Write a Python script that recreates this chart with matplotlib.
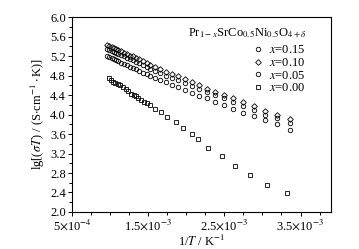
import matplotlib
matplotlib.use("Agg")
import matplotlib.pyplot as plt
from matplotlib.ticker import MultipleLocator, FixedLocator

plt.rcParams["font.family"] = ["Liberation Serif", "DejaVu Serif"]
plt.rcParams["mathtext.fontset"] = "stix"

# 1/T values (x 1e-3 K^-1)
inv_t_upper = [0.96, 0.99, 1.02, 1.05, 1.08, 1.11, 1.14, 1.18, 1.22, 1.26, 1.30,
               1.34, 1.38, 1.43, 1.48, 1.53, 1.59, 1.66, 1.73, 1.81, 1.89, 1.98,
               2.07, 2.17, 2.27, 2.38, 2.50, 2.62, 2.75, 2.89, 3.04, 3.19, 3.36]
lg_x015 = [5.35, 5.33, 5.31, 5.29, 5.26, 5.24, 5.22, 5.19, 5.16, 5.13, 5.11,
           5.08, 5.05, 5.01, 4.98, 4.94, 4.90, 4.85, 4.80, 4.75, 4.70, 4.64,
           4.58, 4.52, 4.46, 4.39, 4.33, 4.25, 4.18, 4.10, 4.00, 3.93, 3.83]
lg_x010 = [5.43, 5.41, 5.39, 5.37, 5.34, 5.32, 5.30, 5.27, 5.24, 5.21, 5.19,
           5.16, 5.13, 5.09, 5.06, 5.02, 4.98, 4.93, 4.88, 4.83, 4.78, 4.72,
           4.66, 4.60, 4.53, 4.47, 4.40, 4.33, 4.25, 4.17, 4.08, 4.00, 3.90]
lg_x005 = [5.19, 5.17, 5.15, 5.13, 5.11, 5.09, 5.06, 5.04, 5.01, 4.98, 4.95,
           4.93, 4.90, 4.86, 4.83, 4.79, 4.75, 4.70, 4.66, 4.61, 4.56, 4.50,
           4.44, 4.38, 4.33, 4.26, 4.19, 4.12, 4.04, 3.97, 3.89, 3.80, 3.68]

inv_t_000 = [0.98, 1.011, 1.042, 1.069, 1.102, 1.133, 1.169, 1.204, 1.240, 1.277,
             1.308, 1.338, 1.371, 1.406, 1.442, 1.483, 1.523, 1.590, 1.662, 1.742,
             1.863, 1.963, 2.079, 2.159, 2.290, 2.474, 2.640, 2.842, 3.057, 3.326]
lg_x000 = [4.74, 4.71, 4.67, 4.65, 4.63, 4.60, 4.56, 4.52, 4.48, 4.43,
           4.41, 4.37, 4.34, 4.30, 4.26, 4.23, 4.19, 4.12, 4.05, 3.95,
           3.84, 3.72, 3.60, 3.49, 3.32, 3.14, 2.94, 2.76, 2.55, 2.39]

x_ticks = [5e-4, 1.5e-3, 2.5e-3, 3.5e-3]
x_tick_labels = [r"5$\times$10$^{-4}$", r"1.5$\times$10$^{-3}$",
                 r"2.5$\times$10$^{-3}$", r"3.5$\times$10$^{-3}$"]

fig = plt.figure(figsize=(3.59, 2.49), dpi=100)
ax = fig.add_axes([0.2006, 0.1486, 0.7214, 0.7831])

mk = dict(linestyle="none", markerfacecolor="none", markeredgecolor="black",
          markeredgewidth=0.6, markersize=3.2)
ax.plot([v * 1e-3 for v in inv_t_upper], lg_x015, marker="o", label=r"$x$=0.15", **mk)
ax.plot([v * 1e-3 for v in inv_t_upper], lg_x010, marker="D", label=r"$x$=0.10",
        **{**mk, "markersize": 2.9})
ax.plot([v * 1e-3 for v in inv_t_upper], lg_x005, marker="o", label=r"$x$=0.05", **mk)
ax.plot([v * 1e-3 for v in inv_t_000], lg_x000, marker="s", label=r"$x$=0.00",
        **{**mk, "markersize": 2.9})

ax.set_xlim(5e-4, 3.9e-3)
ax.set_ylim(2.0, 6.0)
ax.xaxis.set_major_locator(FixedLocator(x_ticks))
ax.set_xticklabels(x_tick_labels)
ax.xaxis.set_minor_locator(MultipleLocator(2.5e-4))
ax.yaxis.set_major_locator(MultipleLocator(0.4))
ax.yaxis.set_minor_locator(MultipleLocator(0.2))
ax.yaxis.set_major_formatter(matplotlib.ticker.FormatStrFormatter("%.1f"))
ax.tick_params(which="both", direction="out", top=False, right=False,
               labelsize=9, width=0.7, pad=1.5)
ax.tick_params(which="major", length=3)
ax.tick_params(which="minor", length=2)
for s in ax.spines.values():
    s.set_linewidth(0.8)

ax.set_xlabel(r"1/$T$ / K$^{-1}$", fontsize=9, labelpad=1)
ax.set_ylabel(r"lg[($\sigma T$) / (S$\cdot$cm$^{-1}\cdot$K)]", fontsize=9, labelpad=2)

ax.text(0.905, 0.915, r"Pr$_{1-x}$SrCo$_{0.5}$Ni$_{0.5}$O$_{4+\delta}$",
        transform=ax.transAxes, ha="right", va="center", fontsize=9)
ax.legend(loc="upper right", bbox_to_anchor=(0.9, 0.86), frameon=False,
          fontsize=9, handlelength=1.0, handletextpad=0.4,
          labelspacing=0.05, borderaxespad=0.0, borderpad=0.0)

fig.savefig("out.png", dpi=100)
plt.close(fig)
